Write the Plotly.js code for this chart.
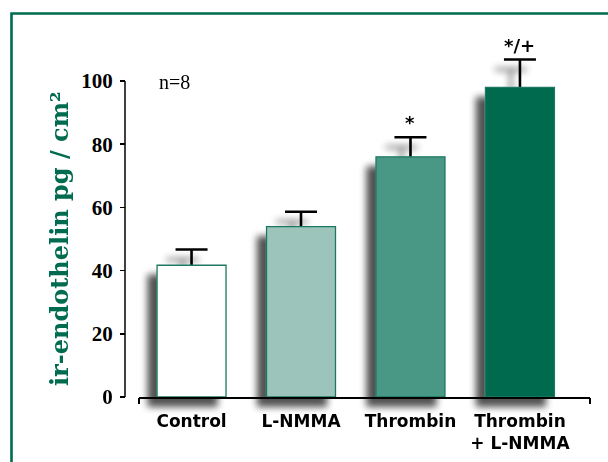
<!DOCTYPE html>
<html>
<head>
<meta charset="utf-8">
<script src="https://cdn.plot.ly/plotly-3.0.1.min.js"></script>
<style>
  html, body { margin: 0; padding: 0; background: #ffffff; }
  #chart { width: 608px; height: 462px; }
</style>
</head>
<body>
<svg width="0" height="0" style="position:absolute">
  <defs>
    <filter id="barShadow" x="-20%" y="-20%" width="140%" height="140%">
      <feGaussianBlur in="SourceAlpha" stdDeviation="3.8" result="blur"/>
      <feOffset in="blur" dx="-9" dy="10" result="off"/>
      <feComponentTransfer in="off" result="shadow">
        <feFuncA type="linear" slope="0.68"/>
      </feComponentTransfer>
      <feMerge>
        <feMergeNode in="shadow"/>
        <feMergeNode in="SourceGraphic"/>
      </feMerge>
    </filter>
  </defs>
</svg>
<div id="chart"></div>
<script>
// ---- data ----
const categories = ['Control', 'L-NMMA', 'Thrombin', 'Thrombin<br>+ L-NMMA'];
const values     = [41.7, 53.9, 76.0, 98.0];
const errors     = [5.0, 4.7, 6.2, 8.8];
const sigLabels  = ['', '', '*', '*/+'];
const barColors  = ['#ffffff', '#9dc4bb', '#4a9886', '#006a50'];
const yTickVals  = [0, 20, 40, 60, 80, 100];
const nLabel     = 'n=8';
const yTitle     = 'ir-endothelin pg / cm²';

const green = '#006b4f';
const xRange = [-0.48, 3.64];

// whiskers (drawn underneath so the bars hide their lower half)
const whiskers = {
  type: 'bar', x: categories, y: values,
  marker: { color: 'rgba(0,0,0,0)', line: { width: 0 } },
  error_y: { type: 'data', array: errors, symmetric: true, visible: true,
             color: '#000000', thickness: 2.6, width: 16 },
  width: 0.63, hoverinfo: 'skip', showlegend: false, cliponaxis: false
};
const bars = {
  type: 'bar', x: categories, y: values,
  marker: { color: barColors, line: { color: '#1e7862', width: 1.3 } },
  width: 0.63, showlegend: false, cliponaxis: false
};
// helper trace for the end ticks of the x axis line
const endTicks = { type: 'scatter', x: [], y: [], xaxis: 'x2', yaxis: 'y',
                   showlegend: false, hoverinfo: 'skip' };

const plotL = 125, plotR = 18, plotT = 30, plotB = 65;
const plotW = 608 - plotL - plotR, plotH = 462 - plotT - plotB;
const pxPerUnit = 3.16;
const yMax = plotH / pxPerUnit;
const xDom = [14 / plotW, 1];
const yTop = yTickVals[yTickVals.length - 1];

const annotations = [];
sigLabels.forEach((s, i) => {
  if (!s) return;
  annotations.push({
    x: categories[i], y: values[i] + errors[i], xref: 'x', yref: 'y',
    text: s, showarrow: false, yanchor: 'bottom', yshift: 2,
    font: { family: 'DejaVu Sans', size: 18, color: '#000', weight: 'bold' }
  });
});
annotations.push({
  xref: 'paper', yref: 'y', x: 0.069, y: yTop,
  xanchor: 'left', yanchor: 'middle',
  text: nLabel, showarrow: false, yshift: -1,
  font: { family: 'Liberation Serif', size: 20, color: '#000' }
});
// y axis title, centred on the tick span
annotations.push({
  xref: 'paper', yref: 'y', x: (59 - plotL) / plotW, y: (yTickVals[0] + yTop) / 2,
  xanchor: 'center', yanchor: 'middle', textangle: -90,
  text: yTitle, showarrow: false,
  font: { family: 'DejaVu Serif', size: 24, color: green, weight: 'bold' }
});

const layout = {
  width: 608, height: 462,
  margin: { l: plotL, r: plotR, t: plotT, b: plotB, pad: 0 },
  paper_bgcolor: '#ffffff', plot_bgcolor: 'rgba(0,0,0,0)',
  barmode: 'overlay',
  showlegend: false,
  xaxis: {
    type: 'category', domain: xDom, range: xRange, anchor: 'y',
    showline: true, linecolor: '#000', linewidth: 1.5,
    ticks: '', showgrid: false, zeroline: false,
    tickfont: { family: 'DejaVu Sans', size: 17, color: '#000', weight: 'bold' },
    ticklabelstandoff: 8
  },
  xaxis2: {
    type: 'linear', overlaying: 'x', anchor: 'y', domain: xDom, range: xRange,
    tickvals: [xRange[0] + 0.0005, xRange[1] - 0.0005],
    showticklabels: false, ticks: 'outside', ticklen: 6, tickwidth: 1.5, tickcolor: '#000',
    showgrid: false, zeroline: false, showline: false
  },
  yaxis: {
    range: [0, yMax], anchor: 'free', position: 0,
    tickvals: yTickVals, ticks: 'outside', ticklen: 5, tickwidth: 1.5, tickcolor: '#000',
    showline: false,
    showgrid: false, zeroline: false,
    tickfont: { family: 'Liberation Serif', size: 21, color: '#000', weight: 'bold' },
    ticklabelstandoff: 3
  },
  annotations: annotations,
  shapes: [
    { // y axis line, only as far as the last tick
      type: 'line', xref: 'paper', yref: 'y', x0: 0, x1: 0,
      y0: yTickVals[0], y1: yTop,
      line: { color: '#000', width: 1.5 }, layer: 'above'
    },
    { // green frame
      type: 'rect', xref: 'paper', yref: 'paper',
      x0: (11.5 - plotL) / plotW, x1: 2,
      y0: -2, y1: (462 - plotB - 13.5) / plotH,
      line: { color: green, width: 2.6 }, fillcolor: 'rgba(0,0,0,0)', layer: 'below'
    }
  ]
};

Plotly.newPlot('chart', [whiskers, bars, endTicks], layout,
  { displayModeBar: false, staticPlot: true }).then(gd => {
  gd.querySelectorAll('.barlayer').forEach(g => g.setAttribute('filter', 'url(#barShadow)'));
});
</script>
</body>
</html>
